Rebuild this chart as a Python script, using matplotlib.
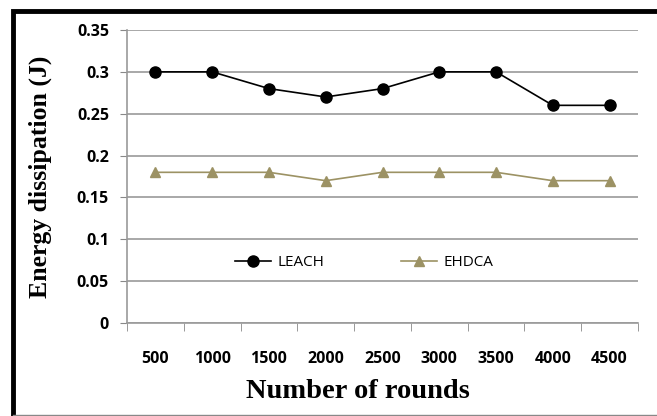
import matplotlib
matplotlib.use("Agg")
import matplotlib.pyplot as plt
from matplotlib.patches import Rectangle
import numpy as np

rounds = ["500", "1000", "1500", "2000", "2500", "3000", "3500", "4000", "4500"]
leach = [0.30, 0.30, 0.28, 0.27, 0.28, 0.30, 0.30, 0.26, 0.26]
ehdca = [0.18, 0.18, 0.18, 0.17, 0.18, 0.18, 0.18, 0.17, 0.17]

W, H = 657, 416
fig = plt.figure(figsize=(W / 100, H / 100), dpi=100)
ax = fig.add_axes([127 / W, 1 - 323 / H, (638 - 127) / W, (323 - 30) / H])

x = np.arange(len(rounds))
ax.plot(x, leach, color="black", lw=1.2, marker="o", ms=8, label="LEACH", zorder=3)
ax.plot(x, ehdca, color="#9c9264", lw=1.2, marker="^", ms=7, label="EHDCA", zorder=3)

ax.set_xlim(-0.5, len(rounds) - 0.5)
ax.set_ylim(0, 0.35)
ax.set_yticks(np.arange(0, 0.351, 0.05))
ax.set_yticklabels(["0", "0.05", "0.1", "0.15", "0.2", "0.25", "0.3", "0.35"])
ax.set_xticks(x)
ax.set_xticklabels(rounds)
ax.set_xticks(np.arange(-0.5, len(rounds), 1), minor=True)
ax.tick_params(axis="x", which="major", length=0, pad=20)
ax.tick_params(axis="x", which="minor", length=6, color="#888888", direction="out")
ax.tick_params(axis="y", length=5, color="#888888", pad=8)
for lab in ax.get_xticklabels() + ax.get_yticklabels():
    lab.set_fontweight("bold")
    lab.set_fontsize(11.5)
    lab.set_family("Open Sans")

ax.grid(axis="y", color="#9a9a9a", lw=1.2)
ax.set_axisbelow(True)
for s in ["top", "right"]:
    ax.spines[s].set_visible(False)
for s in ["left", "bottom"]:
    ax.spines[s].set_color("#9a9a9a")
    ax.spines[s].set_linewidth(1.2)

ax.set_xlabel("Number of rounds", fontsize=20.5, fontweight="bold", family="Liberation Serif")
ax.xaxis.set_label_coords(0.452, -0.19)
ax.set_ylabel("Energy dissipation (J)", fontsize=18.5, fontweight="bold", family="Liberation Serif", labelpad=18)

leg = ax.legend(loc="center", bbox_to_anchor=(0.464, 0.205), ncol=2, frameon=False,
                handlelength=2.4, handletextpad=0.4, columnspacing=5.0,
                prop={"family": "Open Sans", "size": 11})

# outer frame
fig.patches.append(Rectangle((13 / W, -0.01), 1.0, 1 - 11 / H + 0.01, transform=fig.transFigure,
                             fill=False, edgecolor="black", lw=3.5))
fig.add_artist(plt.Line2D([13 / W, 1], [1.5 / H, 1.5 / H], transform=fig.transFigure,
                          color="#888888", lw=1))

fig.savefig("out.png", dpi=100)
